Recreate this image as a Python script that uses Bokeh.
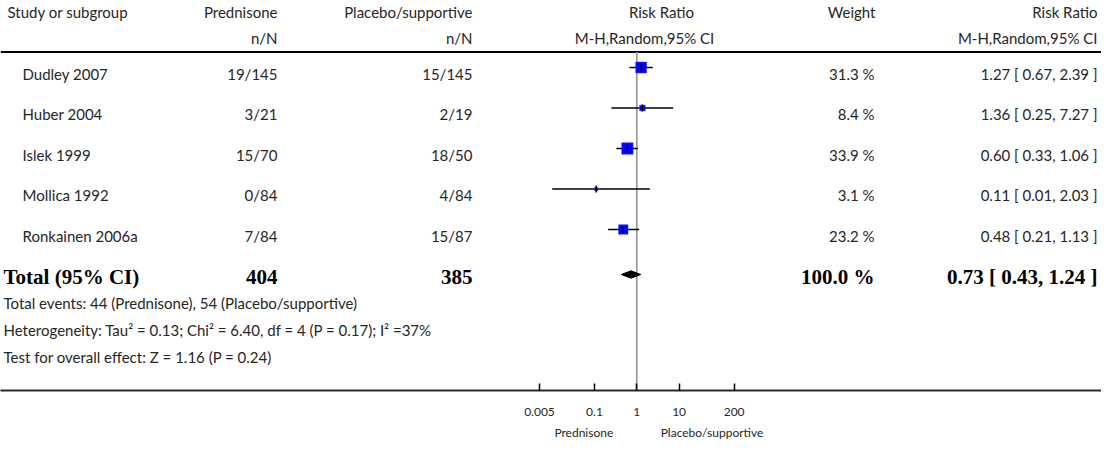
from bokeh.plotting import figure
from bokeh.models import Range1d, LinearScale, FixedTicker, ColumnDataSource, LogAxis
from bokeh.embed import file_html
from bokeh.resources import INLINE
from bokeh.core.properties import value
import math

# ---------------- data ----------------
studies = ["Dudley 2007", "Huber 2004", "Islek 1999", "Mollica 1992", "Ronkainen 2006a"]
pred_n = [19, 3, 15, 0, 7]
pred_N = [145, 21, 70, 84, 84]
plac_n = [15, 2, 18, 4, 15]
plac_N = [145, 19, 50, 84, 87]
weights = [31.3, 8.4, 33.9, 3.1, 23.2]
rr = [1.27, 1.36, 0.60, 0.11, 0.48]
rr_lo = [0.67, 0.25, 0.33, 0.01, 0.21]
rr_hi = [2.39, 7.27, 1.06, 2.03, 1.13]

total_label = "Total (95% CI)"
total_pred_N = 404
total_plac_N = 385
total_weight = 100.0
total_rr, total_lo, total_hi = 0.73, 0.43, 1.24
events_pred, events_plac = 44, 54
tau2, chi2, df, p_het, i2 = 0.13, 6.40, 4, 0.17, 37
z_val, p_z = 1.16, 0.24

tick_values = [0.005, 0.1, 1, 10, 200]
tick_labels = ["0.005", "0.1", "1", "10", "200"]
group_left = "Prednisone"
group_right = "Placebo/supportive"

# ---------------- layout (figure pixels) ----------------
W, H = 1101, 443
FRAME_H = 390
X_ONE = 636.3      # pixel of RR = 1
PPD = 42.3         # pixels per decade
ROW0, STEP = 67.0, 40.5
TXT_DY = 6.0
HDR1, HDR2, HDR_LINE = 11.0, 37.0, 51.5
TOTAL_Y = 274.0
TOTAL_TXT = 276.0
FOOT = [302.0, 329.0, 356.0]
GROUP_LABEL_POS = [0.056, 60]   # log-axis positions where the two group labels sit

FONT = "Lato"
FS = "15px"
SERIF = "Liberation Serif"
TS = "21px"
INK = "#262626"

x_lo = 10 ** (-X_ONE / PPD)
x_hi = 10 ** ((W - X_ONE) / PPD)

p = figure(width=W, height=H, x_axis_type="log",
           x_range=Range1d(x_lo, x_hi), y_range=Range1d(FRAME_H, 0),
           output_backend="svg", toolbar_location=None,
           min_border_left=0, min_border_right=0, min_border_top=0,
           min_border_bottom=H - FRAME_H)
p.extra_x_ranges = {"px": Range1d(0, W)}
p.extra_x_scales = {"px": LinearScale()}
p.outline_line_color = None
p.grid.visible = False
p.yaxis.visible = False
p.background_fill_color = "white"
p.border_fill_color = "white"

ax = p.xaxis[0]
ax.ticker = FixedTicker(ticks=tick_values)
ax.major_label_overrides = {v: s for v, s in zip(tick_values, tick_labels)}
ax.minor_tick_line_color = None
ax.major_tick_in = 7
ax.major_tick_out = 0
ax.major_tick_line_color = "black"
ax.major_tick_line_width = 1.5
ax.axis_line_color = "#2a2a2a"
ax.axis_line_width = 2
ax.major_label_standoff = 17
ax.major_label_text_font = FONT
ax.major_label_text_font_size = "12px"
ax.major_label_text_color = INK

# second (label-only) axis carrying the two group names
ax2 = LogAxis(ticker=FixedTicker(ticks=GROUP_LABEL_POS),
              major_label_overrides={GROUP_LABEL_POS[0]: group_left, GROUP_LABEL_POS[1]: group_right},
              axis_line_color=None, major_tick_line_color=None, minor_tick_line_color=None,
              major_tick_in=0, major_tick_out=0, major_label_standoff=6,
              major_label_text_font=FONT, major_label_text_font_size="12px",
              major_label_text_color=INK)
p.add_layout(ax2, "below")

ys = [ROW0 + STEP * i for i in range(len(studies))]
ty = [y + TXT_DY for y in ys]

# header line
p.segment(x0=[0], x1=[W], y0=[HDR_LINE], y1=[HDR_LINE], x_range_name="px",
          line_color="black", line_width=2)
# no-effect line
p.segment(x0=[1], x1=[1], y0=[HDR_LINE], y1=[FRAME_H], line_color="#999999", line_width=1.7)

# confidence intervals, boxes and point ticks
src = ColumnDataSource(dict(y=ys, rr=rr, lo=rr_lo, hi=rr_hi,
                            size=[1.95 * math.sqrt(w) for w in weights]))
p.segment(x0="lo", x1="hi", y0="y", y1="y", source=src, line_color="black", line_width=1.5)
p.scatter(x="rr", y="y", size="size", marker="square", source=src,
          fill_color="#0000ff", line_color="#3a3aff", line_width=0.6)
p.scatter(x="rr", y="y", size=7, marker="dash", angle=math.pi / 2, source=src,
          line_color="black", line_width=1.5)

# diamond for total
p.patch(x=[total_lo, total_rr, total_hi, total_rr],
        y=[TOTAL_Y, TOTAL_Y - 3.7, TOTAL_Y, TOTAL_Y + 3.7],
        fill_color="black", line_color="black")

def txt(x, y, t, align="left", font=FONT, size=FS, style="normal", color=INK):
    p.text(x=x, y=y, text=t, x_range_name="px", text_align=align,
           text_baseline="middle", text_font=value(font), text_font_size=size,
           text_font_style=style, text_color=color)

# headers
txt([7], [HDR1], ["Study or subgroup"])
txt([277], [HDR1], ["Prednisone"], "right")
txt([472], [HDR1], ["Placebo/supportive"], "right")
txt([661], [HDR1], ["Risk Ratio"], "center")
txt([875], [HDR1], ["Weight"], "right")
txt([1097], [HDR1], ["Risk Ratio"], "right")
txt([277], [HDR2], ["n/N"], "right")
txt([472], [HDR2], ["n/N"], "right")
txt([644], [HDR2], ["M-H,Random,95% CI"], "center")
txt([1097], [HDR2], ["M-H,Random,95% CI"], "right")

# study rows
n = len(studies)
txt([22] * n, ty, studies)
txt([277] * n, ty, [f"{a}/{b}" for a, b in zip(pred_n, pred_N)], "right")
txt([472] * n, ty, [f"{a}/{b}" for a, b in zip(plac_n, plac_N)], "right")
txt([874] * n, ty, [f"{w:.1f} %" for w in weights], "right")
txt([1097] * n, ty, [f"{r:.2f} [ {l:.2f}, {h:.2f} ]" for r, l, h in zip(rr, rr_lo, rr_hi)], "right")

# total row
txt([3], [TOTAL_TXT], [total_label], font=SERIF, size=TS, style="bold", color="black")
txt([277], [TOTAL_TXT], [str(total_pred_N)], "right", SERIF, TS, "bold", "black")
txt([472], [TOTAL_TXT], [str(total_plac_N)], "right", SERIF, TS, "bold", "black")
txt([874], [TOTAL_TXT], [f"{total_weight:.1f} %"], "right", SERIF, TS, "bold", "black")
txt([1097], [TOTAL_TXT], [f"{total_rr:.2f} [ {total_lo:.2f}, {total_hi:.2f} ]"], "right", SERIF, TS, "bold", "black")

# footnotes
txt([3], [FOOT[0]], [f"Total events: {events_pred} ({group_left}), {events_plac} ({group_right})"])
txt([3], [FOOT[1]], [f"Heterogeneity: Tau\u00b2 = {tau2:.2f}; Chi\u00b2 = {chi2:.2f}, df = {df} (P = {p_het:.2f}); I\u00b2 ={i2}%"])
txt([3], [FOOT[2]], [f"Test for overall effect: Z = {z_val:.2f} (P = {p_z:.2f})"])

open("out.html", "w").write(file_html(p, INLINE))
